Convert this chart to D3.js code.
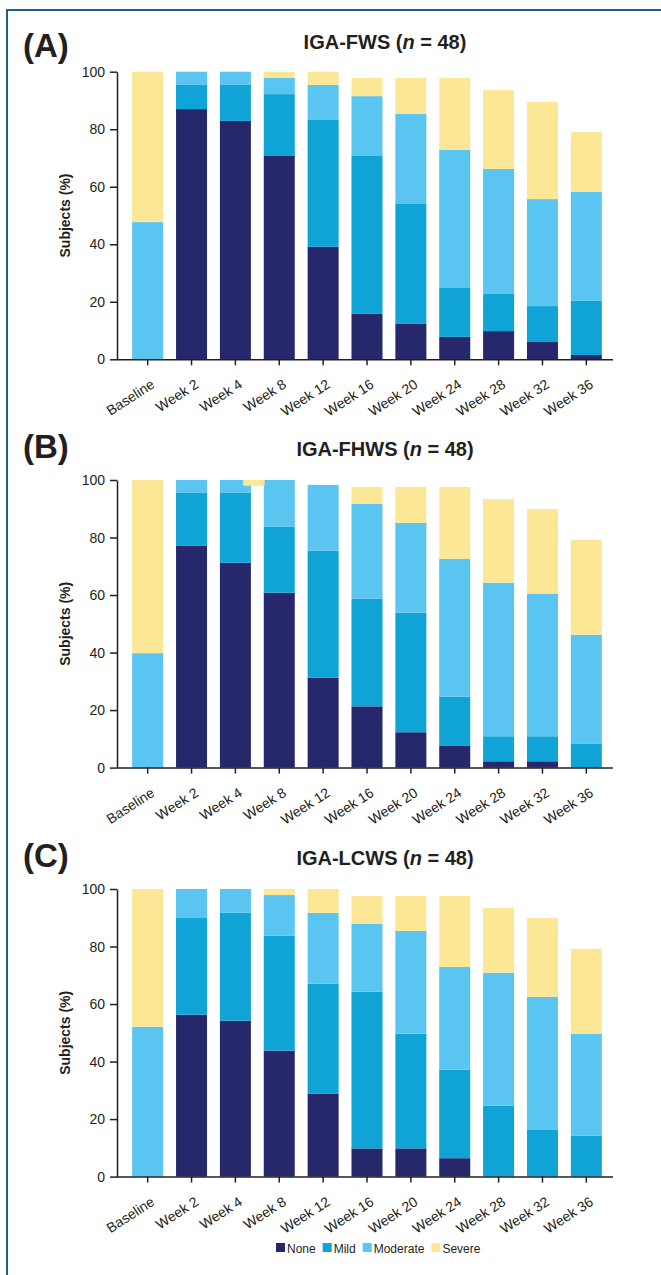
<!DOCTYPE html>
<html>
<head>
<meta charset="utf-8">
<script src="https://cdn.jsdelivr.net/npm/d3@7"></script>
<style>
  body { margin: 0; background: #fff; }
  text { font-family: "Liberation Sans", Arial, sans-serif; fill: #231f20; }
  .axis path, .axis line { stroke: #231f20; stroke-width: 1.5; }
  .axis text { font-size: 14px; fill: #231f20; }
</style>
</head>
<body>
<svg id="chart" width="661" height="1275"></svg>
<script>
const categories = ["Baseline", "Week 2", "Week 4", "Week 8", "Week 12", "Week 16",
  "Week 20", "Week 24", "Week 28", "Week 32", "Week 36"];
const levels = ["None", "Mild", "Moderate", "Severe"];
const colors = ["#27276b", "#0fa3d6", "#5bc5f2", "#fbe796"];
const yTicks = [0, 20, 40, 60, 80, 100];

// IGA-FWS, % of subjects per level
const fwsNone = [0, 87.0, 82.9, 70.7, 39.1, 15.8, 12.3, 7.8, 9.8, 6.0, 1.5];
const fwsMild = [0, 8.4, 12.5, 21.5, 44.1, 54.9, 41.7, 17.0, 12.9, 12.5, 18.8];
const fwsModerate = [47.7, 4.6, 4.6, 5.6, 12.2, 20.8, 31.3, 48.0, 43.5, 37.2, 37.9];
const fwsSevere = [52.3, 0, 0, 2.2, 4.6, 6.3, 12.5, 25.0, 27.4, 33.8, 20.8];

// IGA-FHWS
const fhwsNone = [0, 77.1, 71.2, 60.8, 31.3, 21.3, 12.3, 7.7, 2.2, 2.2, 0];
const fhwsMild = [0, 18.4, 24.3, 22.9, 44.1, 37.4, 41.6, 17.0, 8.7, 8.7, 8.4];
const fhwsModerate = [39.8, 4.5, 4.5, 16.3, 22.9, 33.0, 31.2, 47.9, 53.4, 49.6, 37.8];
const fhwsSevere = [60.2, 0, 0, 0, 0, 5.9, 12.5, 25.0, 29.1, 29.4, 33.0];
// stray severe sliver printed beside the Week 4 bar in the original
const fhwsStray = { category: "Week 4", from: 98, to: 100 };

// IGA-LCWS
const lcwsNone = [0, 56.3, 54.2, 43.8, 28.9, 9.8, 9.8, 6.4, 0, 0, 0];
const lcwsMild = [0, 33.6, 37.5, 39.9, 38.2, 54.5, 39.9, 30.8, 24.7, 16.4, 14.3];
const lcwsModerate = [52.1, 10.1, 8.3, 14.2, 24.6, 23.6, 35.7, 35.7, 46.2, 46.1, 35.4];
const lcwsSevere = [47.9, 0, 0, 2.1, 8.3, 9.7, 12.2, 24.7, 22.5, 27.4, 29.5];

const panels = [
  { tag: "(A)", name: "IGA-FWS", top: 71.7, tagY: 57, titleY: 49,
    values: [fwsNone, fwsMild, fwsModerate, fwsSevere] },
  { tag: "(B)", name: "IGA-FHWS", top: 480, tagY: 458, titleY: 456,
    values: [fhwsNone, fhwsMild, fhwsModerate, fhwsSevere], stray: fhwsStray },
  { tag: "(C)", name: "IGA-LCWS", top: 889, tagY: 867, titleY: 865,
    values: [lcwsNone, lcwsMild, lcwsModerate, lcwsSevere] },
];

const svg = d3.select("#chart");
const plotHeight = 287.6;
const axisX = 117;

// frame lines
svg.append("line").attr("x1", 6).attr("x2", 661).attr("y1", 10).attr("y2", 10)
  .attr("stroke", "#1f5e8b").attr("stroke-width", 2);
svg.append("line").attr("x1", 7).attr("x2", 7).attr("y1", 9).attr("y2", 1275)
  .attr("stroke", "#1f5e8b").attr("stroke-width", 2);

const x = d3.scaleBand()
  .domain(categories)
  .range([119, 615])
  .paddingInner(0.293)
  .paddingOuter(0.3);

panels.forEach((p) => {
  const y = d3.scaleLinear().domain([0, 100]).range([p.top + plotHeight, p.top]);

  const rows = categories.map((c, i) => {
    const row = { category: c };
    levels.forEach((l, j) => (row[l] = p.values[j][i]));
    return row;
  });
  const stacked = d3.stack().keys(levels)(rows);

  svg.append("text")
    .attr("x", 23).attr("y", p.tagY)
    .attr("font-size", 33).attr("font-weight", "bold")
    .text(p.tag);

  const title = svg.append("text")
    .attr("x", 385).attr("y", p.titleY)
    .attr("text-anchor", "middle")
    .attr("font-size", 20).attr("font-weight", "bold");
  title.append("tspan").text(p.name + " (");
  title.append("tspan").attr("font-style", "italic").text("n");
  title.append("tspan").text(" = 48)");

  svg.append("g")
    .selectAll("g")
    .data(stacked)
    .join("g")
    .attr("fill", (d, i) => colors[i])
    .selectAll("rect")
    .data((d) => d)
    .join("rect")
    .attr("x", (d) => x(d.data.category))
    .attr("width", x.bandwidth())
    .attr("y", (d) => y(d[1]))
    .attr("height", (d) => y(d[0]) - y(d[1]));

  if (p.stray) {
    svg.append("rect")
      .attr("x", x(p.stray.category) + x.bandwidth() * 0.75)
      .attr("width", x.bandwidth() * 0.69)
      .attr("y", y(p.stray.to))
      .attr("height", y(p.stray.from) - y(p.stray.to))
      .attr("fill", colors[3]);
  }

  svg.append("g")
    .attr("class", "axis")
    .attr("transform", `translate(${axisX},0)`)
    .call(d3.axisLeft(y).tickValues(yTicks).tickSize(7).tickSizeOuter(0).tickPadding(5));

  const xAxis = svg.append("g")
    .attr("class", "axis")
    .attr("transform", `translate(0,${p.top + plotHeight})`)
    .call(d3.axisBottom(x).tickSize(6).tickSizeOuter(0));
  xAxis.select(".domain").attr("d", `M${axisX},0.5H613`);
  xAxis.selectAll("text")
    .attr("text-anchor", "end")
    .attr("dx", 0).attr("dy", 0)
    .attr("transform", "translate(3,20) rotate(-33)");

  svg.append("text")
    .attr("transform", `translate(70,${p.top + plotHeight / 2}) rotate(-90)`)
    .attr("text-anchor", "middle")
    .attr("font-size", 14).attr("font-weight", "bold")
    .text("Subjects (%)");
});

// legend
const legend = svg.append("g").attr("transform", "translate(276,1243)");
let lx = 0;
levels.forEach((l, i) => {
  legend.append("rect").attr("x", lx).attr("y", 0).attr("width", 9).attr("height", 9)
    .attr("fill", colors[i]);
  const t = legend.append("text").attr("x", lx + 11).attr("y", 9.5)
    .attr("font-size", 12).text(l);
  lx += 11 + t.node().getComputedTextLength() + 7;
});
</script>
</body>
</html>
